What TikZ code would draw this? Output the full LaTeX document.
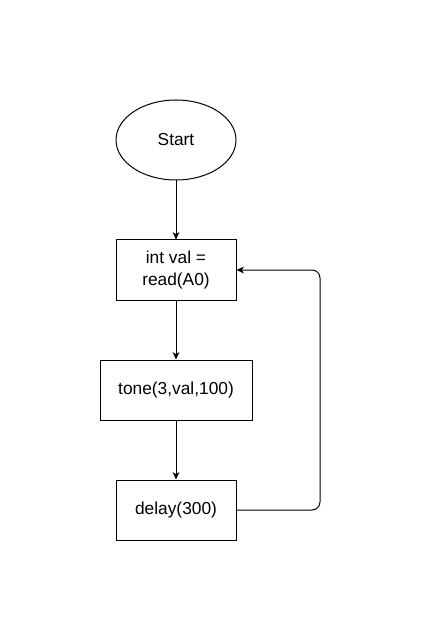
\documentclass[tikz,border=0pt]{standalone}
\usepackage{fontspec}
\setmainfont{Liberation Sans}
\usetikzlibrary{shapes.geometric, arrows.meta}

\tikzset{
    flowbox/.style={draw, rectangle, line width=0.75pt, minimum width=90pt, minimum height=45pt, inner sep=2pt, align=center, font=\fontsize{13}{16.5}\selectfont},
    startnode/.style={draw, ellipse, line width=0.75pt, minimum width=90pt, minimum height=60pt, inner sep=0pt, font=\fontsize{13}{16.5}\selectfont},
    flowline/.style={line width=0.75pt, -{Stealth[length=5.5pt, width=5pt, inset=1.5pt]}}
}

\begin{document}
\begin{tikzpicture}[x=0.75pt, y=-0.75pt]
        \useasboundingbox (0, 0) rectangle (429, 641);

        \node[startnode] (start) at (176, 140) {Start};
        \node[flowbox] (read) at (176, 270) {int val =\\read(A0)};
        \node[flowbox, minimum width=114pt] (tone) at (176, 390) {tone(3,val,100)};
        \node[flowbox] (delay) at (176, 510) {delay(300)};

        \draw[flowline] (start) -- (read);
        \draw[flowline] (read) -- (tone);
        \draw[flowline] (tone) -- (delay);

        \draw[flowline, rounded corners=6pt] (delay.east) -- (320, 510) -- (320, 270) -- (read.east);
    \end{tikzpicture}
\end{document}
